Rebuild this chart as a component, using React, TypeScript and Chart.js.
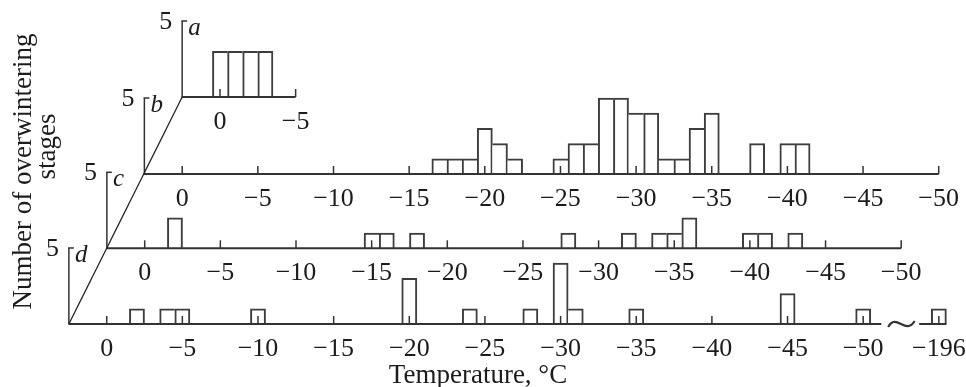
import React, { useEffect, useRef } from "react";
import { Chart, registerables } from "chart.js";

Chart.register(...registerables);

// ---------------- data ----------------
const PANEL_LETTERS = ["a", "b", "c", "d"];

const A_TEMPS = [0, -1, -2, -3];
const A_COUNTS = [3, 3, 3, 3];

const B_TEMPS = [-17, -18, -19, -20, -21, -22, -25, -26, -27, -28, -29, -30, -31, -32, -33, -34, -35, -38, -40, -41];
const B_COUNTS = [1, 1, 1, 3, 2, 1, 1, 2, 2, 5, 5, 4, 4, 1, 1, 3, 4, 2, 2, 2];

const C_TEMPS = [-2, -15, -16, -18, -28, -32, -34, -35, -36, -40, -41, -43];
const C_COUNTS = [2, 1, 1, 1, 1, 1, 1, 1, 2, 1, 1, 1];

const D_TEMPS = [-2, -4, -5, -10, -20, -24, -28, -30, -31, -35, -45, -50, -196];
const D_COUNTS = [1, 1, 1, 1, 3, 1, 1, 4, 1, 1, 2, 1, 1];

const A_TICKS = [0, -5];
const TEMP_TICKS = [0, -5, -10, -15, -20, -25, -30, -35, -40, -45, -50];
const D_EXTRA_TICKS = [-196];
const Y_TICK = 5;

const X_TITLE = "Temperature, °C";
const Y_TITLE_1 = "Number of overwintering";
const Y_TITLE_2 = "stages";

// ---------------- layout ----------------
const W = 966;
const H = 387;
const PX_PER_DEG = 15.13;
const PX_PER_COUNT = 15.2;
const ORIGINS = [
  { x: 220, y: 97 },
  { x: 182.2, y: 174 },
  { x: 144.7, y: 248.3 },
  { x: 106.7, y: 324 },
];
const AXIS_START = 2.5;
const AXIS_ENDS = [-5, -50, -50, -51.2];
// broken axis in panel d: values below BREAK_AT are drawn past the break
const BREAK_AT = -100;
const BREAK_POS = -55;
const mapT = (t: number) => (t <= BREAK_AT ? BREAK_POS : t);

const SERIF = "'Liberation Serif', 'Times New Roman', serif";
const INK = "#1c1c1c";
const LINE = "#333333";
const BAR_LINE = "#3d3d3d";

const PANELS = [
  { temps: A_TEMPS, counts: A_COUNTS, ticks: A_TICKS },
  { temps: B_TEMPS, counts: B_COUNTS, ticks: TEMP_TICKS },
  { temps: C_TEMPS, counts: C_COUNTS, ticks: TEMP_TICKS },
  { temps: D_TEMPS, counts: D_COUNTS, ticks: TEMP_TICKS },
];

function borderWidths(temps: number[], counts: number[]) {
  return temps.map((t, i) => {
    const h = counts[i];
    const li = temps.indexOf(t + 1); // neighbour on the left (warmer)
    const ri = temps.indexOf(t - 1); // neighbour on the right (colder)
    const left = li >= 0 && counts[li] > h ? 0 : 2;
    const right = ri >= 0 && counts[ri] >= h ? 0 : 2;
    return { top: 2, left, right, bottom: 0 };
  });
}

const fmt = (v: number) => (v === 0 ? "0" : "\u2212" + Math.abs(v));

function seg(ctx: CanvasRenderingContext2D, x1: number, y1: number, x2: number, y2: number) {
  ctx.beginPath();
  ctx.moveTo(x1, y1);
  ctx.lineTo(x2, y2);
  ctx.stroke();
}

const panelPlugin = {
  id: "panelAxes",
  beforeDraw(chart: any) {
    const ctx = chart.ctx;
    ctx.save();
    ctx.fillStyle = "#ffffff";
    ctx.fillRect(0, 0, chart.width, chart.height);
    ctx.restore();
  },
  afterDatasetsDraw(chart: any) {
    const ctx: CanvasRenderingContext2D = chart.ctx;
    ctx.save();
    ctx.strokeStyle = LINE;
    ctx.fillStyle = INK;
    ctx.lineCap = "butt";

    PANELS.forEach((p, i) => {
      const xs = chart.scales["x" + i];
      const ys = chart.scales["y" + i];
      const y0 = ys.getPixelForValue(0);
      const xStart = xs.getPixelForValue(AXIS_START);
      const xEnd = xs.getPixelForValue(AXIS_ENDS[i]);
      const yTop = ys.getPixelForValue(Y_TICK);

      // x axis
      ctx.lineWidth = 2;
      seg(ctx, xStart - 0.5, y0, xEnd, y0);
      // y axis + top tick
      ctx.lineWidth = 1.5;
      seg(ctx, xStart, y0, xStart, yTop);
      seg(ctx, xStart - 0.75, yTop, xStart + 5, yTop);

      // x ticks and labels
      ctx.font = `26px ${SERIF}`;
      ctx.textAlign = "center";
      ctx.textBaseline = "alphabetic";
      const ticks = i === 3 ? [...p.ticks, ...D_EXTRA_TICKS] : p.ticks;
      ticks.forEach((t) => {
        const px = xs.getPixelForValue(mapT(t));
        ctx.lineWidth = 1.5;
        seg(ctx, px, y0, px, y0 - 8);
        ctx.fillText(fmt(t), px, y0 + 32);
      });

      // y tick label "5"
      ctx.textAlign = "right";
      ctx.fillText(String(Y_TICK), xStart - 10, yTop + 8);

      // panel letter
      ctx.font = `italic 25px ${SERIF}`;
      ctx.textAlign = "left";
      ctx.fillText(PANEL_LETTERS[i], xStart + 6, yTop + 14);
    });

    // broken axis of panel d
    {
      const xs = chart.scales.x3;
      const ys = chart.scales.y3;
      const y0 = ys.getPixelForValue(0);
      const tx1 = xs.getPixelForValue(-51.65);
      const tx2 = xs.getPixelForValue(-53.4);
      ctx.lineWidth = 2.2;
      ctx.beginPath();
      ctx.moveTo(tx1, y0 + 3);
      ctx.bezierCurveTo(tx1 + 8, y0 - 12, tx2 - 9, y0 + 12, tx2, y0 - 3);
      ctx.stroke();
      ctx.lineWidth = 2;
      seg(ctx, xs.getPixelForValue(-53.7), y0, xs.getPixelForValue(BREAK_POS - 0.5), y0);
    }

    // slanted line joining the origins
    {
      const a = { x: chart.scales.x0.getPixelForValue(AXIS_START), y: chart.scales.y0.getPixelForValue(0) };
      const d = { x: chart.scales.x3.getPixelForValue(AXIS_START), y: chart.scales.y3.getPixelForValue(0) };
      ctx.lineWidth = 1.3;
      ctx.strokeStyle = "#222";
      seg(ctx, a.x, a.y, d.x, d.y);
    }

    // axis titles
    ctx.fillStyle = INK;
    ctx.font = `27px ${SERIF}`;
    ctx.textAlign = "center";
    ctx.textBaseline = "alphabetic";
    ctx.fillText(X_TITLE, 478, 383);

    ctx.save();
    ctx.translate(31, 171.5);
    ctx.rotate(-Math.PI / 2);
    ctx.fillText(Y_TITLE_1, 0, 0);
    ctx.restore();
    ctx.save();
    ctx.translate(55, 146.5);
    ctx.rotate(-Math.PI / 2);
    ctx.fillText(Y_TITLE_2, 0, 0);
    ctx.restore();

    ctx.restore();
  },
};

export default function App() {
  const ref = useRef<HTMLCanvasElement>(null);

  useEffect(() => {
    const scales: any = {};
    ORIGINS.forEach((o, i) => {
      scales["x" + i] = {
        type: "linear",
        display: false,
        reverse: true,
        offset: false,
        bounds: "data",
        min: (o.x - W) / PX_PER_DEG,
        max: o.x / PX_PER_DEG,
        ticks: { stepSize: 5, includeBounds: false },
        grid: { offset: false },
      };
      scales["y" + i] = {
        type: "linear",
        display: false,
        bounds: "data",
        min: (o.y - H) / PX_PER_COUNT,
        max: o.y / PX_PER_COUNT,
        ticks: { stepSize: 5, includeBounds: false },
      };
    });

    const datasets = PANELS.map((p, i) => {
      const bw = borderWidths(p.temps, p.counts);
      return {
        label: PANEL_LETTERS[i],
        xAxisID: "x" + i,
        yAxisID: "y" + i,
        data: p.temps.map((t, k) => ({ x: mapT(t), y: p.counts[k] })),
        backgroundColor: "#ffffff",
        borderColor: BAR_LINE,
        borderWidth: (c: any) => bw[c.dataIndex] || 2,
        borderSkipped: "start",
        barPercentage: 1,
        categoryPercentage: 1,
        grouped: false,
      };
    });

    const chart = new Chart(ref.current!, {
      type: "bar",
      data: { datasets } as any,
      options: {
        responsive: false,
        devicePixelRatio: 1,
        animation: false,
        events: [],
        layout: { padding: 0 },
        plugins: { legend: { display: false }, tooltip: { enabled: false }, title: { display: false } },
        scales,
      } as any,
      plugins: [panelPlugin],
    });
    return () => chart.destroy();
  }, []);

  return (
    <div style={{ position: "absolute", left: 0, top: 0, width: W, height: H, background: "#fff" }}>
      <canvas ref={ref} width={W} height={H} style={{ display: "block", width: W, height: H }} />
    </div>
  );
}
